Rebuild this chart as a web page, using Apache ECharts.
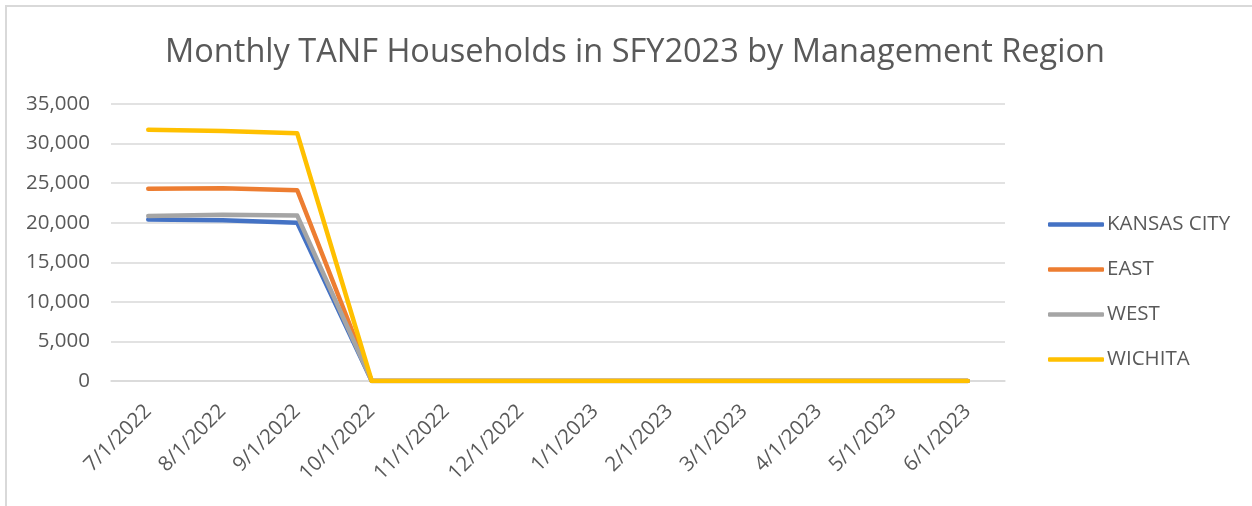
<!DOCTYPE html>
<html><head><meta charset="utf-8">
<script src="https://cdn.jsdelivr.net/npm/echarts@6/dist/echarts.min.js"></script>
<style>
html,body{margin:0;padding:0;background:#fff}
#wrap{position:relative;width:1252px;height:506px;overflow:hidden}
#c{position:absolute;left:0;top:0;width:1252px;height:506px}
#frame{position:absolute;left:5px;top:5px;width:1300px;height:600px;border-top:2px solid #d9d9d9;border-left:2px solid #d9d9d9;pointer-events:none}
</style>
</head><body><div id="wrap"><div id="c"></div><div id="frame"></div></div>
<script>
const categories = ['7/1/2022','8/1/2022','9/1/2022','10/1/2022','11/1/2022','12/1/2022','1/1/2023','2/1/2023','3/1/2023','4/1/2023','5/1/2023','6/1/2023'];
const kansasCity = [20400, 20300, 20000, 0, 0, 0, 0, 0, 0, 0, 0, 0];
const east = [24300, 24350, 24100, 0, 0, 0, 0, 0, 0, 0, 0, 0];
const west = [20850, 21000, 20900, 0, 0, 0, 0, 0, 0, 0, 0, 0];
const wichita = [31750, 31600, 31300, 0, 0, 0, 0, 0, 0, 0, 0, 0];
const seriesNames = ['KANSAS CITY', 'EAST', 'WEST', 'WICHITA'];
const colors = ['#4472C4', '#ED7D31', '#A5A5A5', '#FFC000'];
const font = 'Open Sans';
const chart = echarts.init(document.getElementById('c'));
const mk = (name, data, i) => ({
  name, type: 'line', data, symbol: 'none', smooth: false,
  lineStyle: { width: 4.5, color: colors[i], cap: 'round', join: 'round' },
  itemStyle: { color: colors[i] }
});
chart.setOption({
  animation: false,
  title: { text: 'Monthly TANF Households in SFY2023 by Management Region', left: 630, textAlign: 'center', top: 31,
    textStyle: { fontFamily: font, fontSize: 32.5, fontWeight: 'normal', color: '#595959' } },
  legend: { orient: 'vertical', left: 1043, top: 209, itemGap: 24, itemWidth: 56, itemHeight: 4.5, icon: 'roundRect',
    textStyle: { fontFamily: font, fontSize: 20.5, lineHeight: 20, color: '#595959', padding: [0, 0, 0, -2] } },
  grid: { left: 111, right: 247, top: 104, bottom: 125, containLabel: false },
  xAxis: { type: 'category', data: categories, boundaryGap: true,
    axisLine: { lineStyle: { color: '#d9d9d9', width: 1.5 } }, axisTick: { show: false },
    axisLabel: { rotate: 45, fontFamily: font, fontSize: 20.5, color: '#595959', margin: 27, interval: 0 } },
  yAxis: { type: 'value', min: 0, max: 35000, interval: 5000,
    axisLine: { show: false }, axisTick: { show: false },
    splitLine: { lineStyle: { color: '#d9d9d9', width: 1.5 } },
    axisLabel: { fontFamily: font, fontSize: 20.5, color: '#595959', margin: 21,
      formatter: v => v.toLocaleString('en-US') } },
  series: [mk(seriesNames[0], kansasCity, 0), mk(seriesNames[1], east, 1), mk(seriesNames[2], west, 2), mk(seriesNames[3], wichita, 3)]
});
</script></body></html>
